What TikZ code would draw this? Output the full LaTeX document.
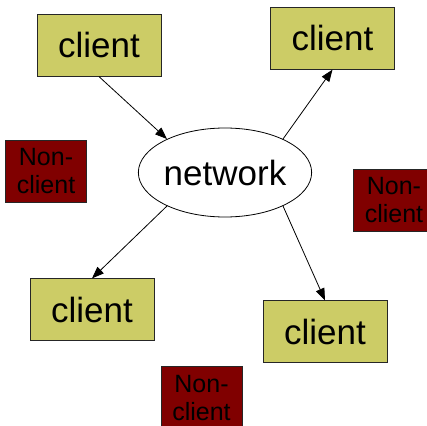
\documentclass[tikz,border=0pt]{standalone}
\usepackage{fontspec}
\setmainfont{Liberation Sans}
\usetikzlibrary{positioning,arrows.meta,shapes.geometric}
\definecolor{clientfill}{HTML}{CCCC66}
\definecolor{nonfill}{HTML}{800000}

\begin{document}
\begin{tikzpicture}[x=1pt,y=1pt,
	clientbox/.style={rectangle,draw=black!85,fill=clientfill,line width=0.8pt,inner sep=0pt,minimum width=124pt,minimum height=62pt,font=\fontsize{35}{40}\selectfont},
	nonbox/.style={rectangle,draw=black!85,fill=nonfill,line width=0.8pt,inner sep=0pt,minimum width=81pt,minimum height=62pt,align=center,font=\fontsize{25}{28}\selectfont},
	netnode/.style={ellipse,draw,line width=0.8pt,inner sep=0pt,minimum width=170pt,minimum height=89pt,font=\fontsize{35}{40}\selectfont},
	link/.style={-{Triangle[length=12pt,width=9pt]},line width=0.8pt}]
		\useasboundingbox (-225,172.5) rectangle (202,-252.5);
		\node[netnode]											(net)	{network};
		\node[clientbox,node distance=51pt,above=of net,xshift=-126pt]	(c1)	{client};
		\node[clientbox,node distance=58pt,above=of net,xshift=107.5pt]	(c2)	{client};
		\node[clientbox,node distance=61pt,below=of net,xshift=-133pt]	(c3)	{client};
		\node[clientbox,node distance=83pt,below=of net,xshift=100pt]	(c4)	{client};
		\node[nonbox,node distance=51pt,left=of net,yshift=1.5pt]		(n1)	{Non-\\client};
		\node[nonbox,node distance=41pt,right=of net,yshift=-27.5pt]	(n2)	{Non-\\client};
		\node[nonbox,node distance=149pt,below=of net,xshift=-23.5pt]	(n3)	{Non-\\client};

		\draw[link] (c1.south) -- (net.150);
		\draw[link] (net.30) -- (c2.south);
		\draw[link] (net.210) -- (c3.north);
		\draw[link] (net.330) -- (c4.north);
	\end{tikzpicture}
\end{document}
